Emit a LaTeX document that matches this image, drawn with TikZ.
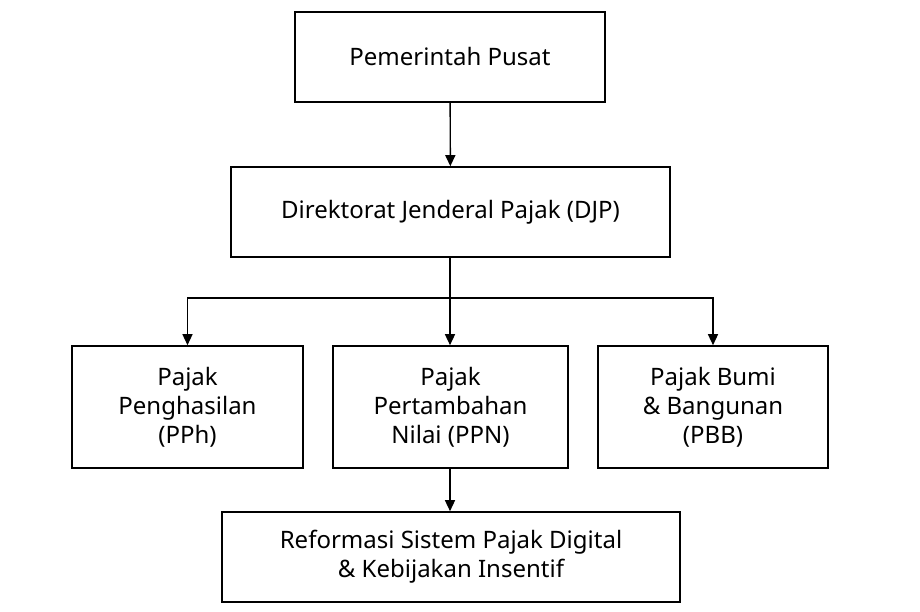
\documentclass[tikz,border=0pt]{standalone}
\usepackage{fontspec}
\setmainfont{Noto Sans}
\usetikzlibrary{arrows.meta}
\begin{document}
\begin{tikzpicture}[x=1pt,y=-1pt,
  box/.style={draw,line width=1.6pt,align=center,font=\fontsize{24}{29}\selectfont\bfseries,inner sep=0pt},
  arr/.style={line width=1.4pt,-{Triangle[length=11pt,width=10pt]}}]
\useasboundingbox (0,0) rectangle (920,612);
\node[box,minimum width=310pt,minimum height=90pt] (top) at (450,57) {Pemerintah Pusat};
\node[box,minimum width=439pt,minimum height=90pt] (djp) at (450.5,212) {Direktorat Jenderal Pajak (DJP)};
\node[box,minimum width=231pt,minimum height=122pt] (pph) at (187.5,407) {Pajak\\Penghasilan\\(PPh)};
\node[box,minimum width=235pt,minimum height=122pt] (ppn) at (450.5,407) {Pajak\\Pertambahan\\Nilai (PPN)};
\node[box,minimum width=230pt,minimum height=122pt] (pbb) at (713,407) {Pajak Bumi\\\& Bangunan\\(PBB)};
\node[box,minimum width=458pt,minimum height=90pt] (ref) at (451,557) {Reformasi Sistem Pajak Digital\\\& Kebijakan Insentif};
\coordinate (j) at (450,298);
\draw[arr] (top) -- (djp);
\draw[line width=1.4pt] (djp.south -| j) -- (j);
\draw[arr] (j) -- (ppn.north -| j);
\draw[arr] (j) -| (pph.north);
\draw[arr] (j) -| (pbb.north);
\draw[arr] (ppn.south -| j) -- (ref.north -| j);
\end{tikzpicture}
\end{document}
